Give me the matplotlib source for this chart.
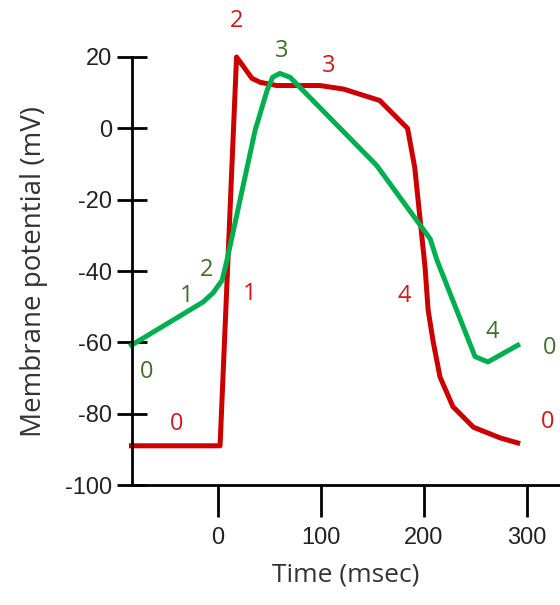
import matplotlib
matplotlib.use("Agg")
import matplotlib.pyplot as plt

# ventricular (red) action potential, time in msec, potential in mV
red_t = [-84, 2, 18, 33, 41, 57, 99, 122, 157, 184, 191, 196, 201, 204, 209, 215.5, 228, 248, 274, 291]
red_v = [-89, -89, 20, 14, 12.9, 12, 12, 11, 7.8, 0, -11, -25, -39, -51, -60, -69.7, -78, -83.8, -86.8, -88.2]

# pacemaker (green) action potential
green_t = [-84, -14.5, -5, 4, 8.7, 36, 47.6, 53, 60, 70, 154, 206, 212.6, 249.5, 262, 291]
green_v = [-60.8, -48.7, -46.2, -42.6, -37, -0.6, 10.6, 14.3, 15.4, 14.3, -10.4, -31, -37, -64, -65.5, -60.8]

# phase labels
red_lab = ["2", "3", "1", "4", "0", "0"]
red_lab_t = [18, 107, 31, 181, -40, 320]
red_lab_v = [30.2, 17.6, -46.5, -47, -83, -82.4]
green_lab = ["3", "2", "1", "0", "4", "0"]
green_lab_t = [62, -11, -30, -69, 266, 322]
green_lab_v = [21.8, -39.8, -47, -68.4, -57, -61.6]

xticks = [0, 100, 200, 300]
yticks = [20, 0, -20, -40, -60, -80, -100]

fig = plt.figure(figsize=(5.6, 6.05), dpi=100)
ax = fig.add_axes([0.2357, 0.1983, 0.7643, 0.7075])

ax.plot(red_t, red_v, color="#cc0000", lw=3.6, solid_joinstyle="round", clip_on=False)
ax.plot(green_t, green_v, color="#00b050", lw=3.6, solid_joinstyle="round", clip_on=False)

for s, t, v in zip(red_lab, red_lab_t, red_lab_v):
    ax.text(t, v, s, color="#d01818", fontsize=17, family="Open Sans",
            ha="center", va="center", clip_on=False)
for s, t, v in zip(green_lab, green_lab_t, green_lab_v):
    ax.text(t, v, s, color="#3f6f2a", fontsize=17, family="Open Sans",
            ha="center", va="center", clip_on=False)

ax.set_xlim(-83.5, 332)
ax.set_ylim(-100, 20)
ax.set_xticks(xticks)
ax.set_yticks(yticks)
ax.set_xticklabels([str(x) for x in xticks], family="Liberation Sans", fontsize=17, color="#222222")
ax.set_yticklabels([str(y) for y in yticks], family="Liberation Sans", fontsize=17, color="#222222")

for side in ["top", "right"]:
    ax.spines[side].set_visible(False)
for side in ["left", "bottom"]:
    ax.spines[side].set_linewidth(2)

ax.tick_params(axis="y", direction="inout", length=21, width=2, pad=4, color="black")
ax.tick_params(axis="x", direction="out", length=23, width=2, pad=7, color="black")

ax.set_xlabel("Time (msec)", family="Open Sans", fontsize=19, color="#333333", labelpad=10)
ax.set_ylabel("Membrane potential (mV)", family="Open Sans", fontsize=20, color="#333333", labelpad=12)

fig.savefig("out.png", dpi=100)
